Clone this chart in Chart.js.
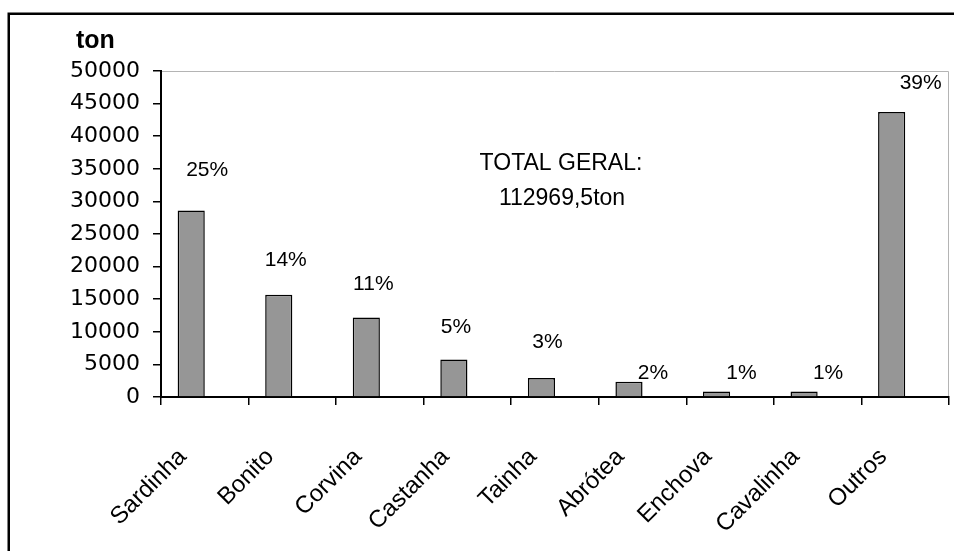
<!DOCTYPE html>
<html>
<head>
<meta charset="utf-8">
<script src="https://cdn.jsdelivr.net/npm/chart.js@4/dist/chart.umd.min.js"></script>
<style>
  html, body { margin: 0; padding: 0; background: #fff; }
  #wrap { width: 954px; height: 551px; }
</style>
</head>
<body>
<div id="wrap"><canvas id="c" width="954" height="551"></canvas></div>
<script>
// Desembarque por espécie (toneladas)
const categories = ['Sardinha', 'Bonito', 'Corvina', 'Castanha', 'Tainha', 'Abrótea', 'Enchova', 'Cavalinha', 'Outros'];
const tonnage = [28600, 15700, 12200, 5750, 2900, 2350, 850, 850, 43700];
const shareLabels = ['25%', '14%', '11%', '5%', '3%', '2%', '1%', '1%', '39%'];
const yTicks = { min: 0, max: 50000, step: 5000 };
const totalLines = ['TOTAL GERAL:', '112969,5ton'];
const axisTitle = 'ton';

// pixel nudges for the percentage labels, relative to each bar's top centre
const shareLabelNudge = [[16, -40], [7, -34], [7, -33], [2, -32], [6, -36], [24, -8], [25, -18], [24, -18], [29, -29]];

const frameAndText = {
  id: 'frameAndText',
  beforeDraw(chart) {
    const ctx = chart.ctx;
    ctx.save();
    ctx.fillStyle = '#fff';
    ctx.fillRect(0, 0, chart.width, chart.height);
    // outer frame (runs off the right and bottom edges)
    ctx.strokeStyle = '#000';
    ctx.lineWidth = 2.5;
    ctx.strokeRect(8.75, 13.75, chart.width + 20, chart.height + 20);
    // plot area outline (top and right)
    const a = chart.chartArea;
    ctx.strokeStyle = '#b4b4b4';
    ctx.lineWidth = 1;
    ctx.beginPath();
    ctx.moveTo(a.left, a.top + 0.5);
    ctx.lineTo(a.right - 0.5, a.top + 0.5);
    ctx.lineTo(a.right - 0.5, a.bottom);
    ctx.stroke();
    ctx.restore();
  },
  afterDatasetsDraw(chart) {
    const ctx = chart.ctx;
    ctx.save();
    ctx.fillStyle = '#000';
    // percentage shares above the bars
    ctx.font = '21px "Liberation Sans", Arial, sans-serif';
    ctx.textAlign = 'center';
    ctx.textBaseline = 'middle';
    chart.getDatasetMeta(0).data.forEach((bar, i) => {
      const [dx, dy] = shareLabelNudge[i];
      ctx.fillText(shareLabels[i], bar.x + dx, bar.y + dy);
    });
    // grand total note
    ctx.font = '23px "Liberation Sans", Arial, sans-serif';
    ctx.fillText(totalLines[0], 561, 164);
    ctx.fillText(totalLines[1], 562, 199);
    // unit title above the value axis
    ctx.font = 'bold 25px "Liberation Sans", Arial, sans-serif';
    ctx.textAlign = 'left';
    ctx.textBaseline = 'alphabetic';
    ctx.fillText(axisTitle, 76, 48);
    ctx.restore();
  }
};

new Chart(document.getElementById('c'), {
  type: 'bar',
  data: {
    labels: categories,
    datasets: [
      {
        label: 'ton',
        data: tonnage,
        backgroundColor: '#969696',
        borderColor: '#000',
        borderWidth: 1.5,
        borderSkipped: 'bottom',
        categoryPercentage: 0.62,
        barPercentage: 1.0
      },
      {
        // empty companion series that keeps the bars left of each slot centre
        label: '',
        data: categories.map(() => null),
        backgroundColor: 'rgba(0,0,0,0)',
        categoryPercentage: 0.62,
        barPercentage: 1.0
      }
    ]
  },
  options: {
    responsive: false,
    animation: false,
    devicePixelRatio: 1,
    layout: { padding: { top: 71, right: 5, left: 0, bottom: 0 } },
    plugins: {
      legend: { display: false },
      tooltip: { enabled: false },
      title: { display: false }
    },
    scales: {
      x: {
        type: 'category',
        offset: true,
        afterFit(scale) {
          scale.height = 154;
          scale.paddingLeft = 0;
          scale.paddingRight = 0;
        },
        grid: {
          display: true,
          offset: true,
          drawOnChartArea: false,
          drawTicks: true,
          tickLength: 8,
          color: '#000',
          lineWidth: 1.5
        },
        border: { display: true, color: '#000', width: 2 },
        ticks: {
          autoSkip: false,
          maxRotation: 45,
          minRotation: 45,
          labelOffset: -22,
          padding: 38,
          color: '#000',
          font: { family: '"Liberation Sans", Arial, sans-serif', size: 24 }
        }
      },
      y: {
        min: yTicks.min,
        max: yTicks.max,
        afterFit(scale) { scale.width = 161; },
        grid: {
          display: true,
          drawOnChartArea: false,
          drawTicks: true,
          tickLength: 8,
          color: '#000',
          lineWidth: 1.5
        },
        border: { display: true, color: '#000', width: 2 },
        ticks: {
          stepSize: yTicks.step,
          padding: 13,
          color: '#000',
          font: { family: '"DejaVu Sans", sans-serif', size: 22 },
          callback: (v) => String(v)
        }
      }
    }
  },
  plugins: [frameAndText]
});
</script>
</body>
</html>
